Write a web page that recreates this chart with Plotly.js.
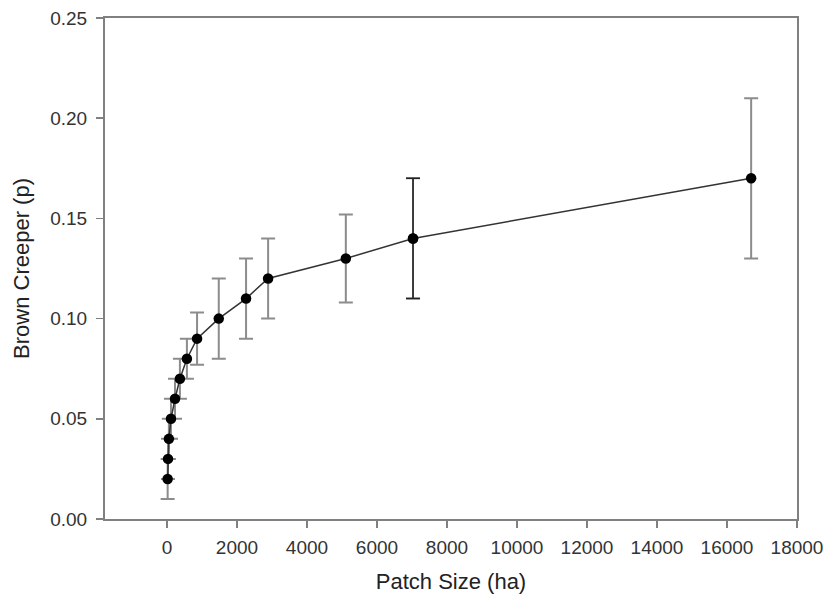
<!DOCTYPE html>
<html>
<head>
<meta charset="utf-8">
<script src="https://cdn.plot.ly/plotly-3.0.1.min.js"></script>
<style>html,body{margin:0;padding:0;background:#fff;}#chart{width:828px;height:603px;}</style>
</head>
<body>
<div id="chart"></div>
<script>
const patchSize = [20, 30, 55, 115, 230, 370, 570, 860, 1480, 2260, 2890, 5110, 7030, 16690];
const creeperP = [0.02, 0.03, 0.04, 0.05, 0.06, 0.07, 0.08, 0.09, 0.10, 0.11, 0.12, 0.13, 0.14, 0.17];
const upperCI = [0.03, 0.04, 0.05, 0.06, 0.07, 0.08, 0.09, 0.103, 0.12, 0.13, 0.14, 0.152, 0.17, 0.21];
const lowerCI = [0.01, 0.02, 0.03, 0.04, 0.05, 0.06, 0.07, 0.077, 0.08, 0.09, 0.10, 0.108, 0.11, 0.13];
const xTicks = [0, 2000, 4000, 6000, 8000, 10000, 12000, 14000, 16000, 18000];
const yTicks = [0, 0.05, 0.10, 0.15, 0.20, 0.25];
const blackIdx = 12;

const plus = upperCI.map((u, i) => u - creeperP[i]);
const minus = lowerCI.map((l, i) => creeperP[i] - l);

const main = {
  x: patchSize, y: creeperP, type: 'scatter', mode: 'lines+markers',
  line: {color: '#333', width: 1.5},
  marker: {color: '#000', size: 10.5},
  error_y: {type: 'data', symmetric: false, array: plus, arrayminus: minus,
            color: '#8c8c8c', thickness: 2, width: 7},
  showlegend: false, hoverinfo: 'x+y'
};
const blackBar = {
  x: [patchSize[blackIdx]], y: [creeperP[blackIdx]], type: 'scatter', mode: 'markers',
  marker: {color: '#000', size: 10.5},
  error_y: {type: 'data', symmetric: false, array: [plus[blackIdx]], arrayminus: [minus[blackIdx]],
            color: '#222', thickness: 1.5, width: 7},
  showlegend: false, hoverinfo: 'x+y'
};

const layout = {
  width: 828, height: 603,
  margin: {l: 105, r: 31, t: 18, b: 84},
  paper_bgcolor: '#fff', plot_bgcolor: '#fff',
  font: {family: 'Liberation Sans, Arial, sans-serif', color: '#222'},
  xaxis: {
    range: [-1770, 18000], tickvals: xTicks, ticktext: xTicks.map(String),
    showgrid: false, zeroline: false, showline: true, linecolor: '#808080', linewidth: 2,
    mirror: true, ticks: 'outside', ticklen: 7, tickwidth: 1.5, tickcolor: '#808080',
    tickfont: {size: 19, color: '#333'}, ticklabelstandoff: 3,
    automargin: false,
    title: {text: 'Patch Size (ha)', font: {size: 22, color: '#222'}, standoff: 17}
  },
  yaxis: {
    range: [0, 0.25], tickvals: yTicks, ticktext: yTicks.map(v => v.toFixed(2)),
    showgrid: false, zeroline: false, showline: true, linecolor: '#808080', linewidth: 2,
    mirror: true, ticks: 'outside', ticklen: 7, tickwidth: 1.5, tickcolor: '#808080',
    tickfont: {size: 19, color: '#333'}, ticklabelstandoff: 5,
    automargin: false,
    title: {text: 'Brown Creeper (p)', font: {size: 22, color: '#222'}, standoff: 15}
  }
};
Plotly.newPlot('chart', [main, blackBar], layout, {displayModeBar: false, staticPlot: true});
</script>
</body>
</html>
